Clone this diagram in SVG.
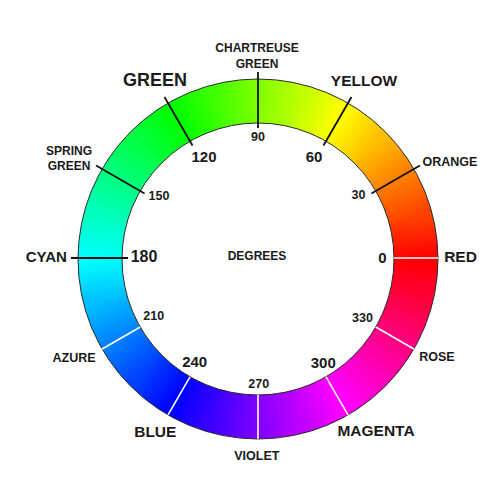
<svg xmlns="http://www.w3.org/2000/svg" width="491" height="494" viewBox="0 0 491 494">
<defs>
<style>
.seg{fill:none;stroke-width:44;stroke-linecap:butt}
.edge{fill:none;stroke:#2a2a2a;stroke-width:1}
.tk{stroke:#111;stroke-width:1.8}
.wt{stroke:#fff;stroke-width:1.6}
text{font-family:"Liberation Sans",Arial,sans-serif;font-weight:bold;fill:#1a1a1a;text-anchor:middle}
</style>
<linearGradient id="g0" gradientUnits="userSpaceOnUse" x1="416" y1="259" x2="410.616" y2="218.107"><stop offset="0" stop-color="#ff0000"/><stop offset="1" stop-color="#ff4000"/></linearGradient>
<linearGradient id="g1" gradientUnits="userSpaceOnUse" x1="410.616" y1="218.107" x2="394.832" y2="180"><stop offset="0" stop-color="#ff4000"/><stop offset="1" stop-color="#ff8000"/></linearGradient>
<linearGradient id="g2" gradientUnits="userSpaceOnUse" x1="394.832" y1="180" x2="369.723" y2="147.277"><stop offset="0" stop-color="#ff8000"/><stop offset="1" stop-color="#ffbf00"/></linearGradient>
<linearGradient id="g3" gradientUnits="userSpaceOnUse" x1="369.723" y1="147.277" x2="337" y2="122.168"><stop offset="0" stop-color="#ffbf00"/><stop offset="1" stop-color="#ffff00"/></linearGradient>
<linearGradient id="g4" gradientUnits="userSpaceOnUse" x1="337" y1="122.168" x2="298.893" y2="106.384"><stop offset="0" stop-color="#ffff00"/><stop offset="1" stop-color="#bfff00"/></linearGradient>
<linearGradient id="g5" gradientUnits="userSpaceOnUse" x1="298.893" y1="106.384" x2="258" y2="101"><stop offset="0" stop-color="#bfff00"/><stop offset="1" stop-color="#80ff00"/></linearGradient>
<linearGradient id="g6" gradientUnits="userSpaceOnUse" x1="258" y1="101" x2="217.107" y2="106.384"><stop offset="0" stop-color="#80ff00"/><stop offset="1" stop-color="#40ff00"/></linearGradient>
<linearGradient id="g7" gradientUnits="userSpaceOnUse" x1="217.107" y1="106.384" x2="179" y2="122.168"><stop offset="0" stop-color="#40ff00"/><stop offset="1" stop-color="#00ff00"/></linearGradient>
<linearGradient id="g8" gradientUnits="userSpaceOnUse" x1="179" y1="122.168" x2="146.277" y2="147.277"><stop offset="0" stop-color="#00ff00"/><stop offset="1" stop-color="#00ff40"/></linearGradient>
<linearGradient id="g9" gradientUnits="userSpaceOnUse" x1="146.277" y1="147.277" x2="121.168" y2="180"><stop offset="0" stop-color="#00ff40"/><stop offset="1" stop-color="#00ff80"/></linearGradient>
<linearGradient id="g10" gradientUnits="userSpaceOnUse" x1="121.168" y1="180" x2="105.384" y2="218.107"><stop offset="0" stop-color="#00ff80"/><stop offset="1" stop-color="#00ffbf"/></linearGradient>
<linearGradient id="g11" gradientUnits="userSpaceOnUse" x1="105.384" y1="218.107" x2="100" y2="259"><stop offset="0" stop-color="#00ffbf"/><stop offset="1" stop-color="#00ffff"/></linearGradient>
<linearGradient id="g12" gradientUnits="userSpaceOnUse" x1="100" y1="259" x2="105.384" y2="299.893"><stop offset="0" stop-color="#00ffff"/><stop offset="1" stop-color="#00bfff"/></linearGradient>
<linearGradient id="g13" gradientUnits="userSpaceOnUse" x1="105.384" y1="299.893" x2="121.168" y2="338"><stop offset="0" stop-color="#00bfff"/><stop offset="1" stop-color="#0080ff"/></linearGradient>
<linearGradient id="g14" gradientUnits="userSpaceOnUse" x1="121.168" y1="338" x2="146.277" y2="370.723"><stop offset="0" stop-color="#0080ff"/><stop offset="1" stop-color="#0040ff"/></linearGradient>
<linearGradient id="g15" gradientUnits="userSpaceOnUse" x1="146.277" y1="370.723" x2="179" y2="395.832"><stop offset="0" stop-color="#0040ff"/><stop offset="1" stop-color="#0000ff"/></linearGradient>
<linearGradient id="g16" gradientUnits="userSpaceOnUse" x1="179" y1="395.832" x2="217.107" y2="411.616"><stop offset="0" stop-color="#0000ff"/><stop offset="1" stop-color="#4000ff"/></linearGradient>
<linearGradient id="g17" gradientUnits="userSpaceOnUse" x1="217.107" y1="411.616" x2="258" y2="417"><stop offset="0" stop-color="#4000ff"/><stop offset="1" stop-color="#8000ff"/></linearGradient>
<linearGradient id="g18" gradientUnits="userSpaceOnUse" x1="258" y1="417" x2="298.893" y2="411.616"><stop offset="0" stop-color="#8000ff"/><stop offset="1" stop-color="#bf00ff"/></linearGradient>
<linearGradient id="g19" gradientUnits="userSpaceOnUse" x1="298.893" y1="411.616" x2="337" y2="395.832"><stop offset="0" stop-color="#bf00ff"/><stop offset="1" stop-color="#ff00ff"/></linearGradient>
<linearGradient id="g20" gradientUnits="userSpaceOnUse" x1="337" y1="395.832" x2="369.723" y2="370.723"><stop offset="0" stop-color="#ff00ff"/><stop offset="1" stop-color="#ff00bf"/></linearGradient>
<linearGradient id="g21" gradientUnits="userSpaceOnUse" x1="369.723" y1="370.723" x2="394.832" y2="338"><stop offset="0" stop-color="#ff00bf"/><stop offset="1" stop-color="#ff0080"/></linearGradient>
<linearGradient id="g22" gradientUnits="userSpaceOnUse" x1="394.832" y1="338" x2="410.616" y2="299.893"><stop offset="0" stop-color="#ff0080"/><stop offset="1" stop-color="#ff0040"/></linearGradient>
<linearGradient id="g23" gradientUnits="userSpaceOnUse" x1="410.616" y1="299.893" x2="416" y2="259"><stop offset="0" stop-color="#ff0040"/><stop offset="1" stop-color="#ff0000"/></linearGradient>
</defs>
<rect width="491" height="494" fill="#ffffff"/>
<g id="wheel">
<path class="seg" stroke="url(#g0)" d="M416 259A158 158 0 0 0 410.616 218.107l-0.39 -1.45"/>
<path class="seg" stroke="url(#g1)" d="M410.616 218.107A158 158 0 0 0 394.832 180l-0.75 -1.3"/>
<path class="seg" stroke="url(#g2)" d="M394.832 180A158 158 0 0 0 369.723 147.277l-1.06 -1.06"/>
<path class="seg" stroke="url(#g3)" d="M369.723 147.277A158 158 0 0 0 337 122.168l-1.3 -0.75"/>
<path class="seg" stroke="url(#g4)" d="M337 122.168A158 158 0 0 0 298.893 106.384l-1.45 -0.39"/>
<path class="seg" stroke="url(#g5)" d="M298.893 106.384A158 158 0 0 0 258 101l-1.5 0"/>
<path class="seg" stroke="url(#g6)" d="M258 101A158 158 0 0 0 217.107 106.384l-1.45 0.39"/>
<path class="seg" stroke="url(#g7)" d="M217.107 106.384A158 158 0 0 0 179 122.168l-1.3 0.75"/>
<path class="seg" stroke="url(#g8)" d="M179 122.168A158 158 0 0 0 146.277 147.277l-1.06 1.06"/>
<path class="seg" stroke="url(#g9)" d="M146.277 147.277A158 158 0 0 0 121.168 180l-0.75 1.3"/>
<path class="seg" stroke="url(#g10)" d="M121.168 180A158 158 0 0 0 105.384 218.107l-0.39 1.45"/>
<path class="seg" stroke="url(#g11)" d="M105.384 218.107A158 158 0 0 0 100 259l0 1.5"/>
<path class="seg" stroke="url(#g12)" d="M100 259A158 158 0 0 0 105.384 299.893l0.39 1.45"/>
<path class="seg" stroke="url(#g13)" d="M105.384 299.893A158 158 0 0 0 121.168 338l0.75 1.3"/>
<path class="seg" stroke="url(#g14)" d="M121.168 338A158 158 0 0 0 146.277 370.723l1.06 1.06"/>
<path class="seg" stroke="url(#g15)" d="M146.277 370.723A158 158 0 0 0 179 395.832l1.3 0.75"/>
<path class="seg" stroke="url(#g16)" d="M179 395.832A158 158 0 0 0 217.107 411.616l1.45 0.39"/>
<path class="seg" stroke="url(#g17)" d="M217.107 411.616A158 158 0 0 0 258 417l1.5 0"/>
<path class="seg" stroke="url(#g18)" d="M258 417A158 158 0 0 0 298.893 411.616l1.45 -0.39"/>
<path class="seg" stroke="url(#g19)" d="M298.893 411.616A158 158 0 0 0 337 395.832l1.3 -0.75"/>
<path class="seg" stroke="url(#g20)" d="M337 395.832A158 158 0 0 0 369.723 370.723l1.06 -1.06"/>
<path class="seg" stroke="url(#g21)" d="M369.723 370.723A158 158 0 0 0 394.832 338l0.75 -1.3"/>
<path class="seg" stroke="url(#g22)" d="M394.832 338A158 158 0 0 0 410.616 299.893l0.39 -1.45"/>
<path class="seg" stroke="url(#g23)" d="M410.616 299.893A158 158 0 0 0 416 259l0 -1.5"/>
<circle class="edge" cx="258" cy="259" r="180"/>
<circle class="edge" cx="258" cy="259" r="136"/>
</g>
<g id="connectors">
<line class="tk" x1="371.45" y1="193.5" x2="419.94" y2="165.5"/>
<line class="tk" x1="323.5" y1="145.55" x2="351.5" y2="97.06"/>
<line class="tk" x1="258" y1="128" x2="258" y2="72"/>
<line class="tk" x1="192.5" y1="145.55" x2="164.5" y2="97.06"/>
<line class="tk" x1="144.55" y1="193.5" x2="96.06" y2="165.5"/>
<line class="tk" x1="128" y1="258" x2="71" y2="258"/>
<line class="wt" x1="394" y1="258" x2="438" y2="258"/>
<line class="wt" x1="140.22" y1="327" x2="102.12" y2="349"/>
<line class="wt" x1="190" y1="376.78" x2="168" y2="414.88"/>
<line class="wt" x1="258" y1="395" x2="258" y2="439"/>
<line class="wt" x1="326" y1="376.78" x2="348" y2="414.88"/>
<line class="wt" x1="375.78" y1="327" x2="413.88" y2="349"/>
</g>
<g id="label-chartreuse"><text x="257" y="52" font-size="12">CHARTREUSE</text><text x="257" y="68.3" font-size="12">GREEN</text></g>
<g id="label-90"><text x="258" y="141" font-size="12.5">90</text></g>
<g id="label-green"><text x="155" y="86" font-size="18">GREEN</text></g>
<g id="label-120"><text x="204" y="161.5" font-size="15">120</text></g>
<g id="label-yellow"><text x="364" y="85.7" font-size="15.5">YELLOW</text></g>
<g id="label-60"><text x="314" y="161.7" font-size="15">60</text></g>
<g id="label-spring"><text x="69" y="154.5" font-size="12">SPRING</text><text x="69" y="169.5" font-size="12">GREEN</text></g>
<g id="label-150"><text x="159" y="200" font-size="12.5">150</text></g>
<g id="label-orange"><text x="450" y="166" font-size="12.5">ORANGE</text></g>
<g id="label-30"><text x="358.5" y="199" font-size="12.5">30</text></g>
<g id="label-cyan"><text x="46.3" y="261.7" font-size="15">CYAN</text></g>
<g id="label-180"><text x="144" y="261.7" font-size="16">180</text></g>
<g id="label-degrees"><text x="257" y="259.5" font-size="12">DEGREES</text></g>
<g id="label-0"><text x="382.5" y="262.5" font-size="15">0</text></g>
<g id="label-red"><text x="460.5" y="262" font-size="15.5">RED</text></g>
<g id="label-210"><text x="153.8" y="320" font-size="12.5">210</text></g>
<g id="label-azure"><text x="74" y="361.5" font-size="12.5">AZURE</text></g>
<g id="label-240"><text x="194.7" y="367.3" font-size="15">240</text></g>
<g id="label-blue"><text x="155.3" y="436.7" font-size="15.5">BLUE</text></g>
<g id="label-270"><text x="258.8" y="388.3" font-size="12.5">270</text></g>
<g id="label-violet"><text x="256.8" y="460" font-size="12.5">VIOLET</text></g>
<g id="label-300"><text x="323.3" y="368.3" font-size="15">300</text></g>
<g id="label-magenta"><text x="376" y="436" font-size="15.5">MAGENTA</text></g>
<g id="label-330"><text x="362.5" y="321.7" font-size="12.5">330</text></g>
<g id="label-rose"><text x="437" y="361" font-size="12.5">ROSE</text></g>
</svg>
